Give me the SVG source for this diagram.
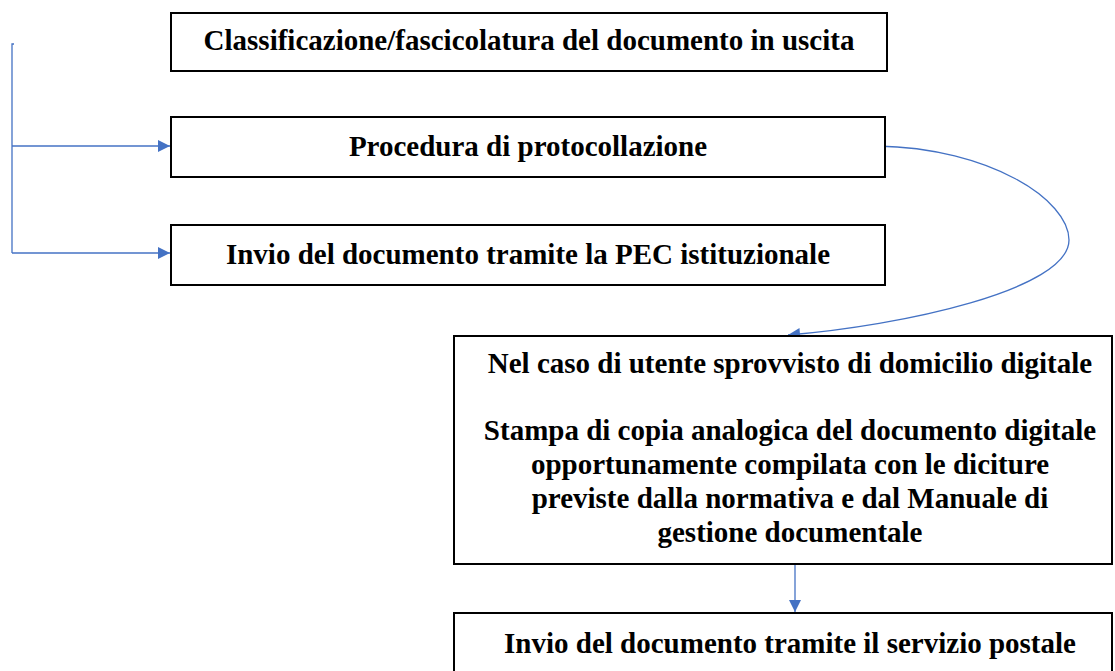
<svg xmlns="http://www.w3.org/2000/svg" width="1115" height="671" viewBox="0 0 1115 671">
<style>
.box{fill:#fff;stroke:#000;stroke-width:2}
.t{font-family:"Liberation Serif","Times New Roman",serif;font-weight:bold;font-size:29px;fill:#000;text-anchor:middle}
.c{fill:none;stroke:#4472C4;stroke-width:1.3}
</style>
<defs>
<marker id="ah" viewBox="0 0 10 10" refX="10" refY="5" markerWidth="15" markerHeight="12" markerUnits="userSpaceOnUse" orient="auto">
<path d="M0,0 L10,5 L0,10 Z" fill="#4472C4"/>
</marker>
</defs>
<g id="connectors">
<path class="c" d="M14,44 L12,44 L12,253"/>
<path class="c" d="M12,146 L170,146" marker-end="url(#ah)"/>
<path class="c" d="M12,253 L170,253" marker-end="url(#ah)"/>
<path class="c" d="M877,146 C990,148 1069,200 1069,240 C1069,290 900,326 788,335" marker-end="url(#ah)"/>
<path class="c" d="M795,565 L795,612" marker-end="url(#ah)"/>
</g>
<g id="n1">
<rect class="box" x="171" y="13" width="716" height="58"/>
<text class="t" x="529" y="50">Classificazione/fascicolatura del documento in uscita</text>
</g>
<g id="n2">
<rect class="box" x="171" y="117" width="714" height="60"/>
<text class="t" x="528" y="156">Procedura di protocollazione</text>
</g>
<g id="n3">
<rect class="box" x="171" y="225" width="714" height="60"/>
<text class="t" x="528" y="264">Invio del documento tramite la PEC istituzionale</text>
</g>
<g id="n4">
<rect class="box" x="454" y="336" width="658" height="228"/>
<text class="t" x="790" y="373">Nel caso di utente sprovvisto di domicilio digitale</text>
<text class="t" x="790" y="440">Stampa di copia analogica del documento digitale</text>
<text class="t" x="790" y="474">opportunamente compilata con le diciture</text>
<text class="t" x="790" y="508">previste dalla normativa e dal Manuale di</text>
<text class="t" x="790" y="542">gestione documentale</text>
</g>
<g id="n5">
<rect class="box" x="454" y="613" width="658" height="70"/>
<text class="t" x="790" y="653">Invio del documento tramite il servizio postale</text>
</g>
</svg>
